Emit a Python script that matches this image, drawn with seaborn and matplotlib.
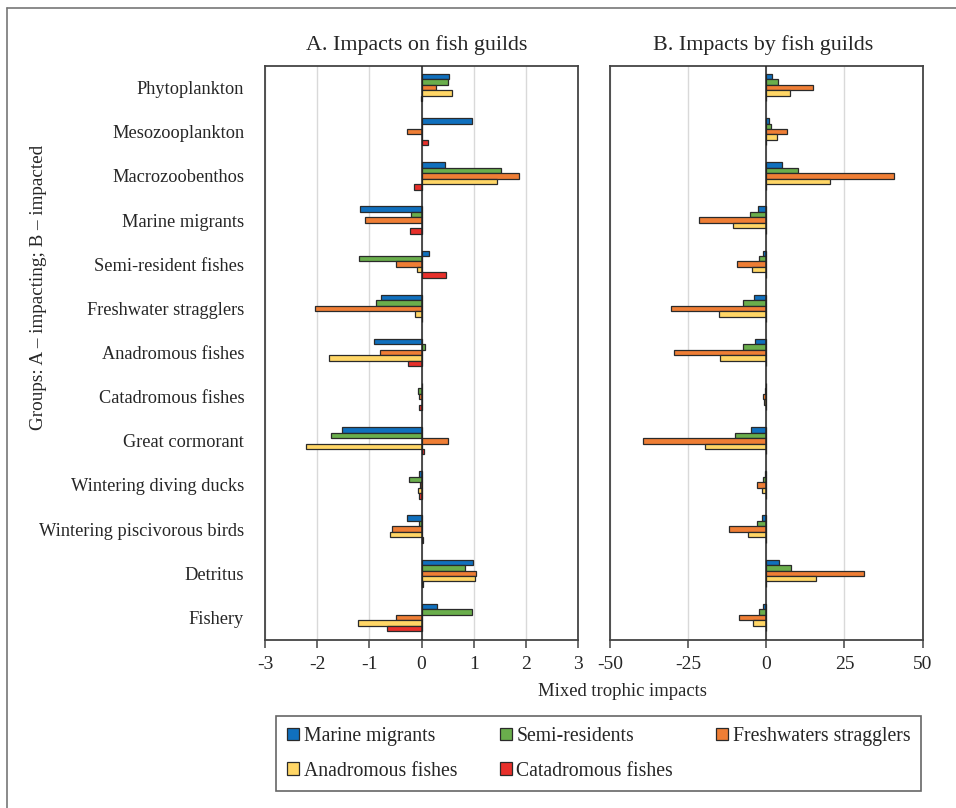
import matplotlib
matplotlib.use("Agg")
import matplotlib.pyplot as plt
from matplotlib.patches import Patch
from matplotlib.lines import Line2D
import seaborn as sns
import pandas as pd

groups = ["Phytoplankton", "Mesozooplankton", "Macrozoobenthos", "Marine migrants",
          "Semi-resident fishes", "Freshwater stragglers", "Anadromous fishes",
          "Catadromous fishes", "Great cormorant", "Wintering diving ducks",
          "Wintering piscivorous birds", "Detritus", "Fishery"]
guilds = ["Marine migrants", "Semi-residents", "Freshwaters stragglers",
          "Anadromous fishes", "Catadromous fishes"]
colors = ["#1070BE", "#6AAE4C", "#EF7E35", "#FFD666", "#E8302B"]

# Panel A: impacts on fish guilds
marine_A = [0.53, 0.97, 0.45, -1.18, 0.15, -0.78, -0.92, 0.01, -1.52, -0.04, -0.28, 0.99, 0.30]
semi_A = [0.50, 0.0, 1.52, -0.20, -1.20, -0.88, 0.06, -0.07, -1.73, -0.24, -0.04, 0.84, 0.97]
fresh_A = [0.28, -0.27, 1.86, -1.09, -0.48, -2.04, -0.80, -0.05, 0.51, -0.02, -0.57, 1.04, -0.48]
anad_A = [0.59, 0.0, 1.45, 0.0, -0.08, -0.13, -1.77, 0.01, -2.21, -0.06, -0.61, 1.02, -1.22]
cata_A = [-0.01, 0.13, -0.15, -0.22, 0.47, 0.01, -0.25, -0.04, 0.04, -0.04, 0.03, 0.03, -0.67]

# Panel B: impacts by fish guilds
marine_B = [1.8, 0.75, 5.1, -2.8, -1.2, -3.8, -3.7, -0.1, -5.0, -0.3, -1.5, 4.0, -1.0]
semi_B = [3.9, 1.5, 10.3, -5.3, -2.3, -7.6, -7.4, -0.3, -9.9, -0.9, -3.0, 7.9, -2.3]
fresh_B = [15.1, 6.6, 41.0, -21.5, -9.3, -30.5, -29.5, -1.2, -39.5, -3.1, -11.9, 31.3, -8.8]
anad_B = [7.6, 3.3, 20.5, -10.8, -4.6, -15.2, -14.7, -0.6, -19.7, -1.5, -6.0, 15.8, -4.4]
cata_B = [0.0, 0.0, 0.0, 0.0, 0.0, 0.0, 0.0, 0.0, 0.0, 0.0, 0.0, 0.0, 0.0]

ticks_A = [-3, -2, -1, 0, 1, 2, 3]
ticks_B = [-50, -25, 0, 25, 50]


def long_df(series):
    rows = []
    for g, vals in zip(guilds, series):
        for grp, v in zip(groups, vals):
            rows.append({"group": grp, "guild": g, "value": v})
    return pd.DataFrame(rows)


dfA = long_df([marine_A, semi_A, fresh_A, anad_A, cata_A])
dfB = long_df([marine_B, semi_B, fresh_B, anad_B, cata_B])

sns.set_style("white")
plt.rcParams["font.family"] = ["Liberation Serif", "DejaVu Serif"]

W, H = 956, 808
fig = plt.figure(figsize=(W / 100, H / 100), dpi=100)


def fx(x):
    return x / W


def fy(y):
    return 1 - y / H


top, bottom = 65.5, 639.5
axA = fig.add_axes([fx(265), fy(bottom), fx(578) - fx(265), fy(top) - fy(bottom)])
axB = fig.add_axes([fx(610), fy(bottom), fx(922.5) - fx(610), fy(top) - fy(bottom)])

edge = "#2a2a2a"
for ax, df, ticks in [(axA, dfA, ticks_A), (axB, dfB, ticks_B)]:
    sns.barplot(data=df, x="value", y="group", hue="guild", order=groups,
                hue_order=guilds, palette=colors, orient="h", width=0.62,
                saturation=1, edgecolor=edge, linewidth=0.9, ax=ax, legend=False)
    ax.set_xlim(ticks[0], ticks[-1])
    ax.set_ylim(len(groups) - 0.5, -0.5)
    ax.set_xticks(ticks)
    ax.set_xticklabels([str(t) for t in ticks])
    ax.set_axisbelow(True)
    ax.grid(axis="x", color="#d9d9d9", linewidth=1.0)
    ax.grid(axis="y", visible=False)
    ax.axvline(0, color="#222222", linewidth=1.1, zorder=3)
    for s in ax.spines.values():
        s.set_visible(True)
        s.set_color("#444444")
        s.set_linewidth(1.3)
    ax.tick_params(axis="x", direction="out", length=6, width=1.1, color="#444444",
                   labelsize=14, pad=6, bottom=True)
    ax.set_xlabel("")
    ax.set_ylabel("")

axA.tick_params(axis="y", length=0, labelsize=13.2, pad=15)
axB.tick_params(axis="y", length=0, left=False, labelleft=False)

fig.text(fx(417), fy(45), "A. Impacts on fish guilds", ha="center", va="center", fontsize=15.8)
fig.text(fx(763), fy(45), "B. Impacts by fish guilds", ha="center", va="center", fontsize=15.8)
fig.text(fx(622), fy(691), "Mixed trophic impacts", ha="center", va="center", fontsize=13.4)
fig.text(fx(39), fy(287), "Groups: A – impacting; B – impacted", ha="center", va="center",
         rotation=90, fontsize=13.8)

# outer frame (top and left)
fig.add_artist(Line2D([fx(7), 1], [fy(8), fy(8)], color="#777777", linewidth=1.2))
fig.add_artist(Line2D([fx(7), fx(7)], [fy(8), 0], color="#777777", linewidth=1.2))

handles = [Patch(facecolor=c, edgecolor=edge, linewidth=0.9, label=g) for g, c in zip(guilds, colors)]
order = [0, 3, 1, 4, 2]
leg = fig.legend([handles[i] for i in order], [guilds[i] for i in order],
                 loc="upper left", bbox_to_anchor=(fx(276), fy(791), fx(921) - fx(276), fy(716) - fy(791)),
                 mode="expand", ncol=3, fontsize=14.2, frameon=True, fancybox=False,
                 edgecolor="#666666", framealpha=1, borderaxespad=0,
                 handlelength=0.6, handleheight=0.6, handletextpad=0.25,
                 borderpad=0.55, labelspacing=0.8, columnspacing=1.0)
leg.get_frame().set_linewidth(1.2)

fig.savefig("out.png", dpi=100)
